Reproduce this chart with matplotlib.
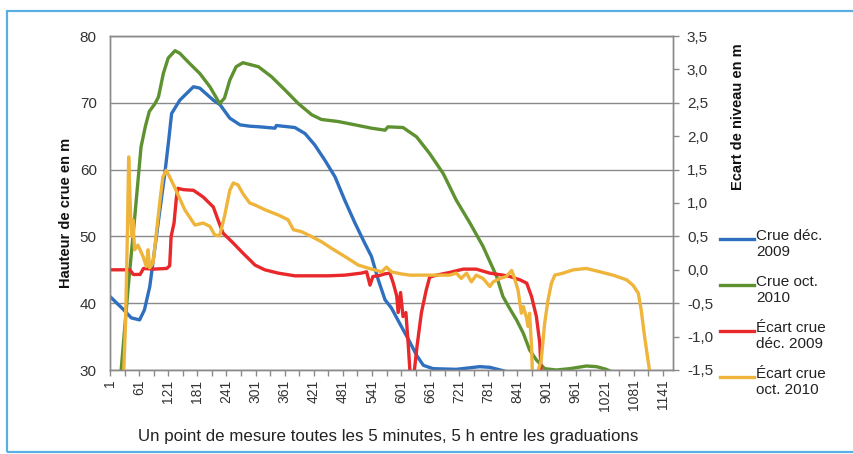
import matplotlib
matplotlib.use("Agg")
import matplotlib.pyplot as plt
from matplotlib.lines import Line2D
from matplotlib.patches import Rectangle

plt.rcParams['font.family'] = ['Liberation Sans', 'DejaVu Sans']

# ---- data ----
blue_x = [1, 28, 45, 62, 72, 83, 93, 103, 114, 122, 128, 145, 173, 186, 214, 228, 248, 269, 289,
          310, 341, 344, 382, 403, 423, 444, 465, 485, 506, 526, 540, 554, 568, 581,
          598, 619, 633, 647, 667, 715, 763, 784, 811, 832]
blue_y = [41.0, 39.1, 37.8, 37.5, 39.0, 42.5, 48.0, 53.5, 59.4, 64.4, 68.4, 70.4, 72.4, 72.2, 70.4, 69.7, 67.7, 66.7, 66.5,
          66.4, 66.2, 66.6, 66.3, 65.4, 63.7, 61.4, 58.9, 55.4, 52.0, 49.0, 47.0, 43.5, 40.5, 39.3,
          37.0, 34.2, 32.2, 30.7, 30.2, 30.1, 30.5, 30.4, 29.9, 29.4]

green_x = [24, 38, 52, 65, 74, 82, 94, 101, 111, 121, 135, 145, 165, 186, 207, 227, 237, 248, 261, 275,
           307, 334, 362, 389, 417, 437, 471, 506, 540, 568, 574, 605, 633, 660, 688, 715, 743,
           770, 798, 811, 825, 839, 853, 866, 880, 897, 921, 949, 983, 1004, 1024, 1045, 1062]
green_y = [30.0, 42.0, 52.9, 63.4, 66.5, 68.7, 69.9, 70.9, 74.4, 76.7, 77.8, 77.4, 75.9, 74.4, 72.4, 69.9, 70.7, 73.4, 75.4, 76.0,
           75.4, 73.9, 71.9, 69.9, 68.2, 67.5, 67.2, 66.7, 66.2, 65.9, 66.4, 66.3, 64.9, 62.4, 59.4, 55.4, 52.0,
           48.5, 44.0, 41.0, 39.2, 37.5, 35.5, 33.0, 31.5, 30.2, 30.0, 30.2, 30.6, 30.5, 30.1, 29.4, 29.0]

red_x = [1, 20, 42, 49, 63, 70, 90, 118, 124, 127, 133, 138, 141, 152, 173, 193, 214, 224, 234, 255, 275, 289,
         300, 320, 348, 382, 417, 451, 485, 519, 530, 537, 543, 554, 568, 578, 585, 592, 595, 600, 605,
         611, 616, 620, 627, 634, 643, 653, 660, 674, 701, 729, 756, 784, 811, 825, 846, 860, 870, 880, 887, 890]
red_y = [0.0, 0.0, 0.0, -0.07, -0.07, 0.02, 0.01, 0.02, 0.06, 0.5, 0.7, 1.09, 1.22, 1.2, 1.19, 1.09, 0.94, 0.74, 0.55, 0.40, 0.25, 0.15,
         0.07, 0.0, -0.05, -0.09, -0.09, -0.09, -0.08, -0.05, -0.03, -0.23, -0.10, -0.09, -0.06, -0.05, -0.20, -0.39, -0.64, -0.34, -0.70,
         -0.64, -1.14, -1.60, -1.60, -1.14, -0.64, -0.30, -0.11, -0.08, -0.04, 0.01, 0.01, -0.05, -0.08, -0.10, -0.15, -0.20, -0.40, -0.70, -1.10, -1.60]

yellow_x = [29, 33, 37, 39.5, 43.6, 46, 48, 51.8, 58.6, 69, 75.9, 79.4, 82.8, 89.7, 96.6, 103.4, 110, 117, 124, 134, 155, 176,
            193, 207, 217, 227, 237, 248, 255, 265, 275, 289, 300, 320, 348, 368, 379, 396, 416, 437, 458, 485,
            513, 540, 561, 571, 581, 600, 619, 660, 701, 715, 725, 736, 746, 756, 770, 784, 791, 805, 818, 829, 835,
            842, 846, 849, 853, 859, 863, 866, 870, 872, 880, 890, 897, 904, 911, 918, 935, 956, 983, 1011, 1038,
            1066, 1079, 1090, 1096, 1103, 1110, 1115]
yellow_y = [-1.6, -0.8, 0.6, 1.69, 0.79, 0.5, 0.75, 0.3, 0.37, 0.2, 0.05, 0.3, 0.03, 0.1, 0.55, 1.0, 1.39, 1.49, 1.39, 1.24, 0.9, 0.67,
            0.7, 0.65, 0.52, 0.51, 0.8, 1.19, 1.3, 1.27, 1.14, 1.0, 0.97, 0.9, 0.82, 0.75, 0.6, 0.57, 0.5, 0.42, 0.32, 0.2,
            0.07, 0.01, -0.03, 0.04, -0.03, -0.06, -0.08, -0.08, -0.08, -0.05, -0.13, -0.05, -0.18, -0.08, -0.13, -0.25, -0.18, -0.13, -0.1, -0.01, -0.13,
            -0.3, -0.5, -0.65, -0.55, -0.7, -0.85, -0.65, -1.15, -1.6, -1.6, -1.35, -0.8, -0.45, -0.2, -0.08, -0.05, 0.0, 0.02, -0.03, -0.08,
            -0.15, -0.23, -0.35, -0.6, -1.0, -1.35, -1.6]

series_labels = ["Crue déc.\n2009", "Crue oct.\n2010", "Écart crue\ndéc. 2009", "Écart crue\noct. 2010"]
x_tick_labels = [str(v) for v in range(1, 1142, 60)]
left_ticks = [30, 40, 50, 60, 70, 80]
right_ticks = [-1.5, -1.0, -0.5, 0.0, 0.5, 1.0, 1.5, 2.0, 2.5, 3.0, 3.5]
right_tick_labels = ["-1,5", "-1,0", "-0,5", "0,0", "0,5", "1,0", "1,5", "2,0", "2,5", "3,0", "3,5"]

# ---- style ----
C_BLUE = "#2f6fbf"
C_GREEN = "#5e9130"
C_RED = "#e8282a"
C_YELLOW = "#efb43a"
colors = [C_BLUE, C_GREEN, C_RED, C_YELLOW]
GRID = "#8a8a8a"
TXT = "#333333"
LW = 2.4

W, H = 854, 454
fig = plt.figure(figsize=(W / 100, H / 100), dpi=100)
fig.patch.set_facecolor("white")

def fx(px):
    return px / W

def fy(py):
    return 1 - py / H

# page border (light blue frame)
fig.add_artist(Rectangle((fx(7), fy(452)), fx(870) - fx(7), fy(11) - fy(452),
                         transform=fig.transFigure, fill=False, edgecolor="#5aaee3", lw=1.6))

L, R, T, B = 110, 673, 36, 370
ax = fig.add_axes([fx(L), fy(B), fx(R) - fx(L), fy(T) - fy(B)])
ax2 = ax.twinx()

ax.plot(blue_x, blue_y, color=C_BLUE, lw=LW, solid_joinstyle="round")
ax.plot(green_x, green_y, color=C_GREEN, lw=LW, solid_joinstyle="round")
ax2.plot(red_x, red_y, color=C_RED, lw=LW, solid_joinstyle="round")
ax2.plot(yellow_x, yellow_y, color=C_YELLOW, lw=LW, solid_joinstyle="round")

ax.set_xlim(1, 1161.6)
ax.set_ylim(30, 80)
ax2.set_ylim(-1.5, 3.5)

ax.set_yticks(left_ticks)
ax.set_yticklabels([str(v) for v in left_ticks])
ax.tick_params(axis="y", length=0, pad=9.5, labelsize=11, labelcolor=TXT)
ax.yaxis.grid(True, color=GRID, lw=1.0)
ax.set_axisbelow(True)

ax.set_xticks(list(range(1, 1142, 60)))
ax.set_xticklabels(x_tick_labels, rotation=90)
ax.set_xticks(list(range(31, 1162, 60)), minor=True)
ax.tick_params(axis="x", which="both", direction="out", length=4, width=1, color=GRID,
               labelsize=10, labelcolor=TXT, pad=3)

ax2.set_yticks(right_ticks)
ax2.set_yticklabels(right_tick_labels)
ax2.tick_params(axis="y", direction="out", length=4, width=1, color=GRID, labelsize=11,
                labelcolor=TXT, pad=6)

for a in (ax, ax2):
    for s in a.spines.values():
        s.set_color(GRID)
        s.set_linewidth(1.0)

fig.text(fx(66), fy(213), "Hauteur de crue en m", rotation=90, ha="center", va="center",
         fontsize=10.5, fontweight="bold", color="#111111")
fig.text(fx(738), fy(117), "Ecart de niveau en m", rotation=90, ha="center", va="center",
         fontsize=10.5, fontweight="bold", color="#111111")
fig.text(fx(388), fy(437), "Un point de mesure toutes les 5 minutes, 5 h entre les graduations",
         ha="center", va="center", fontsize=12.2, color="#222222")

# legend (handle aligned with first text line)
leg_y = [239, 285, 331, 377]
for c, lab, y in zip(colors, series_labels, leg_y):
    fig.add_artist(Line2D([fx(720), fx(754)], [fy(y), fy(y)], transform=fig.transFigure,
                          color=c, lw=LW))
    fig.text(fx(756), fy(y - 9.5), lab, ha="left", va="top", fontsize=11,
             color="#222222", linespacing=1.15)

fig.savefig("out.png", dpi=100, facecolor="white")
